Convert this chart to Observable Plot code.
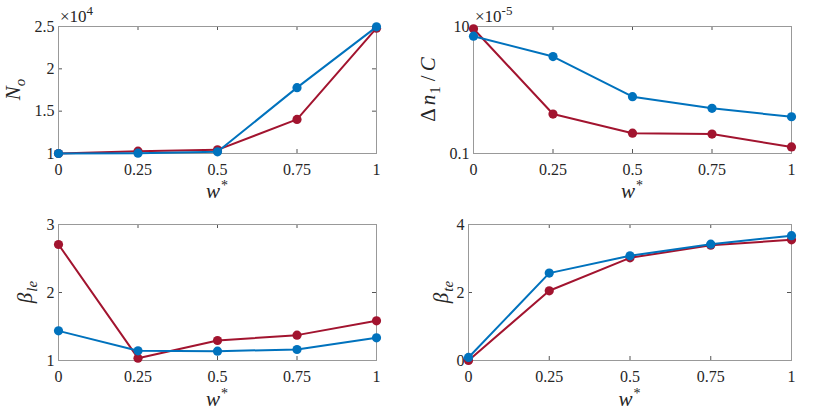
<!DOCTYPE html>
<html><head><meta charset="utf-8">
<script src="https://cdn.jsdelivr.net/npm/d3@7"></script>
<script src="https://cdn.jsdelivr.net/npm/@observablehq/plot@0.6"></script>
<style>
body{margin:0;background:#fff;}
#root{position:relative;width:829px;height:415px;overflow:hidden;}
.p{position:absolute;}
svg{overflow:visible;}
</style></head><body><div id="root"></div>
<script>
const wStar = [0, 0.25, 0.5, 0.75, 1];
const xTicks = [0, 0.25, 0.5, 0.75, 1];
const NoRed = [1.0, 1.028, 1.043, 1.403, 2.48];
const NoBlue = [1.0, 1.004, 1.02, 1.778, 2.496];
const dnRed = [9.2, 0.418, 0.209, 0.202, 0.127];
const dnBlue = [7.03, 3.36, 0.785, 0.514, 0.379];
const bleRed = [2.706, 1.034, 1.294, 1.373, 1.583];
const bleBlue = [1.436, 1.142, 1.137, 1.162, 1.333];
const bteRed = [0.0, 2.05, 3.02, 3.39, 3.55];
const bteBlue = [0.09, 2.57, 3.08, 3.42, 3.67];
const yTicksNo = [1, 1.5, 2, 2.5];
const yTicksDn = [0.1, 10];
const yTicksBle = [1, 2, 3];
const yTicksBte = [0, 2, 4];
const RED = "#A2142F", BLUE = "#0072BD";
const FONT = "Liberation Serif, Times New Roman, serif";

function panel(cfg) {
  const {left, top, width, height, mt, mr, mb, ml, yType, yDomain, yTicks, yFmt, red, blue} = cfg;
  const fh = height - mt - mb, fw = width - ml - mr;
  const tl = 4;
  const rows = vals => wStar.map((x, i) => ({x, y: vals[i]}));
  const svg = Plot.plot({
    width, height, marginTop: mt, marginRight: mr, marginBottom: mb, marginLeft: ml,
    style: `font-family: ${FONT}; font-size: 16px; color: #262626; background: transparent; overflow: visible;`,
    x: {domain: [0, 1]},
    y: {type: yType, domain: yDomain},
    marks: [
      Plot.ruleX(xTicks, {stroke: "#555", insetTop: fh - tl}),
      Plot.ruleX(xTicks, {stroke: "#555", insetBottom: fh - tl}),
      Plot.ruleY(yTicks, {stroke: "#555", insetRight: fw - tl}),
      Plot.ruleY(yTicks, {stroke: "#555", insetLeft: fw - tl}),
      Plot.frame({stroke: "#999"}),
      Plot.axisX(xTicks, {tickSize: 0, tickPadding: 10, label: null, tickFormat: d3.format("~g"), fill: "#262626", fontSize: 16}),
      Plot.axisY(yTicks, {tickSize: 0, tickPadding: 4, label: null, tickFormat: yFmt, fill: "#262626", fontSize: 16}),
      Plot.line(rows(red), {x: "x", y: "y", stroke: RED, strokeWidth: 2}),
      Plot.dot(rows(red), {x: "x", y: "y", fill: RED, r: 4.6}),
      Plot.line(rows(blue), {x: "x", y: "y", stroke: BLUE, strokeWidth: 2}),
      Plot.dot(rows(blue), {x: "x", y: "y", fill: BLUE, r: 4.6})
    ]
  });
  svg.classList.add("p");
  svg.style.left = left + "px";
  svg.style.top = top + "px";
  svg.setAttribute("font-family", FONT);
  document.getElementById("root").appendChild(svg);
  const s = d3.select(svg);
  // x label w*
  const xl = s.append("text").attr("x", ml + fw / 2).attr("y", cfg.xlabY)
    .attr("text-anchor", "middle").style("font-family", FONT).attr("font-size", 21).attr("fill", "#262626");
  xl.append("tspan").attr("font-style", "italic").text("w");
  xl.append("tspan").attr("font-size", 14).attr("dy", -8).attr("dx", 1).text("*");
  // y label
  const yl = s.append("text").attr("transform", `translate(${cfg.ylabX},${mt + fh / 2}) rotate(-90)`)
    .attr("text-anchor", "middle").style("font-family", FONT).attr("font-size", 21).attr("fill", "#262626");
  cfg.ylab(yl);
  if (cfg.mult) {
    const m = s.append("text").attr("x", ml + 2).attr("y", mt - 4).attr("text-anchor", "start")
      .style("font-family", FONT).attr("font-size", 17).attr("fill", "#262626");
    m.append("tspan").text("×10");
    m.append("tspan").attr("font-size", 13).attr("dy", -7).text(cfg.mult);
  }
}

panel({left: 0, top: 0, width: 415, height: 200, mt: 26, mr: 39, mb: 47, ml: 58,
  yType: "linear", yDomain: [1, 2.5], yTicks: yTicksNo, yFmt: d3.format("~g"),
  red: NoRed, blue: NoBlue, xlabY: 198, ylabX: 20, mult: "4",
  ylab: t => {
    t.append("tspan").attr("font-style", "italic").text("N");
    t.append("tspan").attr("font-style", "italic").attr("font-size", 15).attr("dy", 5).text("o");
  }});

panel({left: 415, top: 0, width: 414, height: 200, mt: 26, mr: 38, mb: 47, ml: 58,
  yType: "log", yDomain: [0.1, 10], yTicks: yTicksDn, yFmt: d3.format("~g"),
  red: dnRed, blue: dnBlue, xlabY: 198, ylabX: 20, mult: "-5",
  ylab: t => {
    t.append("tspan").text("Δ");
    t.append("tspan").attr("font-style", "italic").attr("dx", 3).text("n");
    t.append("tspan").attr("font-size", 15).attr("dy", 5).attr("dx", 1).text("1");
    t.append("tspan").attr("dy", -5).attr("dx", 5).text("/");
    t.append("tspan").attr("font-style", "italic").attr("dx", 4).text("C");
  }});

panel({left: 0, top: 200, width: 415, height: 215, mt: 24, mr: 39, mb: 55, ml: 58,
  yType: "linear", yDomain: [1, 3], yTicks: yTicksBle, yFmt: d3.format("~g"),
  red: bleRed, blue: bleBlue, xlabY: 206, ylabX: 32,
  ylab: t => {
    t.append("tspan").attr("font-style", "italic").text("β");
    t.append("tspan").attr("font-style", "italic").attr("font-size", 15).attr("dy", 5).attr("dx", 1).text("le");
  }});

panel({left: 415, top: 200, width: 414, height: 215, mt: 24, mr: 38, mb: 55, ml: 53,
  yType: "linear", yDomain: [0, 4], yTicks: yTicksBte, yFmt: d3.format("~g"),
  red: bteRed, blue: bteBlue, xlabY: 206, ylabX: 33,
  ylab: t => {
    t.append("tspan").attr("font-style", "italic").text("β");
    t.append("tspan").attr("font-style", "italic").attr("font-size", 15).attr("dy", 5).attr("dx", 1).text("te");
  }});
</script>
</body></html>
